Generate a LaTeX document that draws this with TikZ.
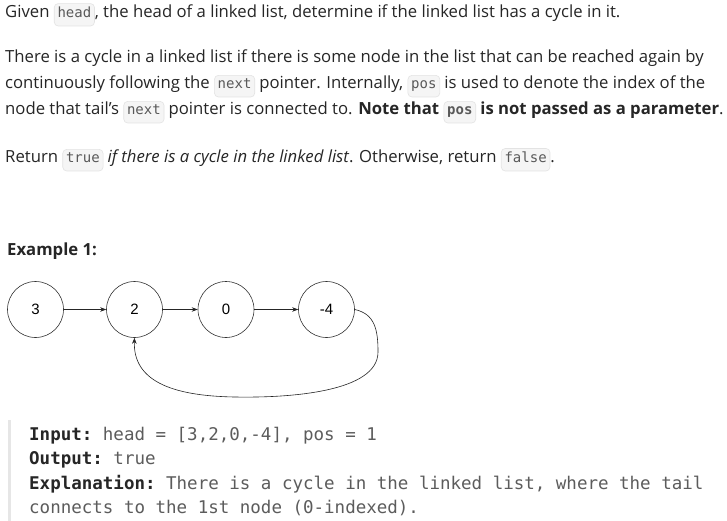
\documentclass[tikz,border=0pt]{standalone}
\usepackage{fontspec}
\setmainfont{Open Sans}
\newfontfamily\nodefont{Liberation Sans}
\setmonofont{DejaVu Sans Mono}
\usetikzlibrary{arrows.meta}
\definecolor{txt}{HTML}{262626}
\definecolor{codebg}{HTML}{F5F5F5}
\definecolor{codeln}{HTML}{E3E3E3}
\definecolor{codetx}{HTML}{595959}
\definecolor{barc}{HTML}{E6E6E6}
\definecolor{monotx}{HTML}{5C5C5C}
\newcommand\inl[1]{\tikz[baseline=(ic.base)]\node[inner xsep=3.3pt,inner ysep=3.8pt,fill=codebg,draw=codeln,line width=0.6pt,rounded corners=4pt,text=codetx,font=\fontsize{14}{14}\ttfamily](ic){\strut #1};}
\tikzset{
  para/.style={anchor=base west,inner sep=0pt,text=txt,font=\fontsize{16.7}{26}\selectfont},
  mono/.style={anchor=base west,inner sep=0pt,text=monotx,font=\fontsize{17.5}{24.5}\ttfamily},
  lnode/.style={circle,draw=black!80,line width=0.6pt,minimum size=56pt,inner sep=0pt,font=\fontsize{15}{15}\nodefont},
  link/.style={-{Stealth[length=6pt,width=4.5pt]},line width=0.6pt,black!85}
}
\begin{document}
\begin{tikzpicture}[x=1pt,y=-1pt]
\useasboundingbox[fill=white] (0,0) rectangle (727,521);
\node[para] (l1) at (5,18) {Given \inl{head}, the head of a linked list, determine if the linked list has a cycle in it.};
\node[para] (l2) at (5,63) {There is a cycle in a linked list if there is some node in the list that can be reached again by};
\node[para] (l3) at (5,89) {continuously following the \inl{next} pointer. Internally, \inl{pos} is used to denote the index of the};
\node[para] (l4) at (5,115) {node that tail's \inl{next} pointer is connected to. \textbf{Note that \inl{pos} is not passed as a parameter}.};
\node[para] (l5) at (5,163) {Return \inl{true} \textit{if there is a cycle in the linked list}. Otherwise, return \inl{false}.};
\node[para,font=\fontsize{16.7}{20}\bfseries] (ex) at (7,255) {Example 1:};
\node[lnode] (n3) at (35.5,309.5) {3};
\node[lnode] (n2) at (134.5,309.5) {2};
\node[lnode] (n0) at (226,309.5) {0};
\node[lnode] (n4) at (326.5,309.5) {-4};
\draw[link] (n3) -- (n2);
\draw[link] (n2) -- (n0);
\draw[link] (n0) -- (n4);
\draw[link] (n4.east) .. controls (375,314) and (378,330) .. (378,352) .. controls (378,392) and (290,398) .. (235,397) .. controls (170,396) and (133,380) .. (n2.south);
\fill[barc] (8,420) rectangle (11,521);
\node[mono] (i1) at (29,440) {\textcolor{txt}{\bfseries Input:} head = [3,2,0,-4], pos = 1};
\node[mono] (i2) at (29,464.5) {\textcolor{txt}{\bfseries Output:} true};
\node[mono] (i3) at (29,489) {\textcolor{txt}{\bfseries Explanation:} There is a cycle in the linked list, where the tail};
\node[mono] (i4) at (29,513.5) {connects to the 1st node (0-indexed).};
\end{tikzpicture}
\end{document}
